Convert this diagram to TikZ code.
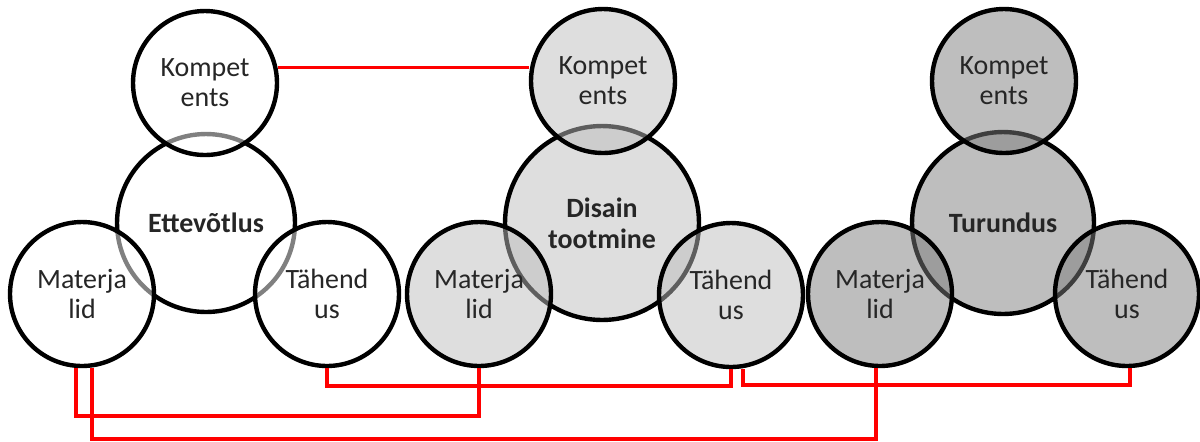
\documentclass[tikz,border=0pt]{standalone}
\usepackage{fontspec}
\setmainfont{Carlito}
\definecolor{lightfill}{RGB}{222,222,222}
\definecolor{lightover}{RGB}{189,189,189}
\definecolor{darkfill}{RGB}{190,190,190}
\definecolor{darkover}{RGB}{125,125,125}
\tikzset{
	core/.style={circle, draw, line width=2.5pt, inner sep=0pt, align=center, text=black!85,
		font=\fontsize{15.9}{17.5}\selectfont\bfseries},
	part/.style={circle, draw, line width=2.5pt, minimum size=2.88cm, inner sep=0pt, align=center,
		text=black!85, fill opacity=0.5, text opacity=1, font=\fontsize{15.9}{17}\selectfont},
	link/.style={red, line width=2pt},
}
\begin{document}
\begin{tikzpicture}[x=0.02cm, y=-0.02cm]
			\useasboundingbox (0,0) rectangle (1200,441);
			
			\node[core, fill=white, minimum size=3.56cm] (c1) at (206,223) {Ettev\~otlus};
			\node[core, fill=lightfill, minimum size=3.88cm] (c2) at (602,223) {Disain\\tootmine};
			\node[core, fill=darkfill, minimum size=3.64cm] (c3) at (1003,223) {Turundus};
			
			\node[part, fill=white] (k1) at (205,83) {Kompet\\ents};
			\node[part, fill=white] (m1) at (82,294) {Materja\\lid};
			\node[part, fill=white] (t1) at (327,294) {T\"ahend\\us};
			
			\node[part, fill=lightover] (k2) at (603,81) {Kompet\\ents};
			\node[part, fill=lightover] (m2) at (479,294) {Materja\\lid};
			\node[part, fill=lightover] (t2) at (731,295) {T\"ahend\\us};
			
			\node[part, fill=darkover] (k3) at (1004,81) {Kompet\\ents};
			\node[part, fill=darkover] (m3) at (880,294) {Materja\\lid};
			\node[part, fill=darkover] (t3) at (1127,294) {T\"ahend\\us};
			
			\draw[link] (k1.12) -- (k1.12 -| k2.west);
			\draw[link] ([xshift=-0.12cm]m1.south) |- ([yshift=-0.96cm]m2.south) -- (m2.south);
			\draw[link] ([xshift=0.2cm]m1.south) |- ([xshift=-0.08cm,yshift=-1.42cm]m3.south) -- ([xshift=-0.08cm]m3.south);
			\draw[link] (t1.south) |- ([yshift=-0.34cm]t2.south) -- (t2.south);
			\draw[link] ([xshift=0.24cm]t2.south) |- ([xshift=0.06cm,yshift=-0.34cm]t3.south) -- ([xshift=0.06cm]t3.south);
		\end{tikzpicture}
\end{document}
